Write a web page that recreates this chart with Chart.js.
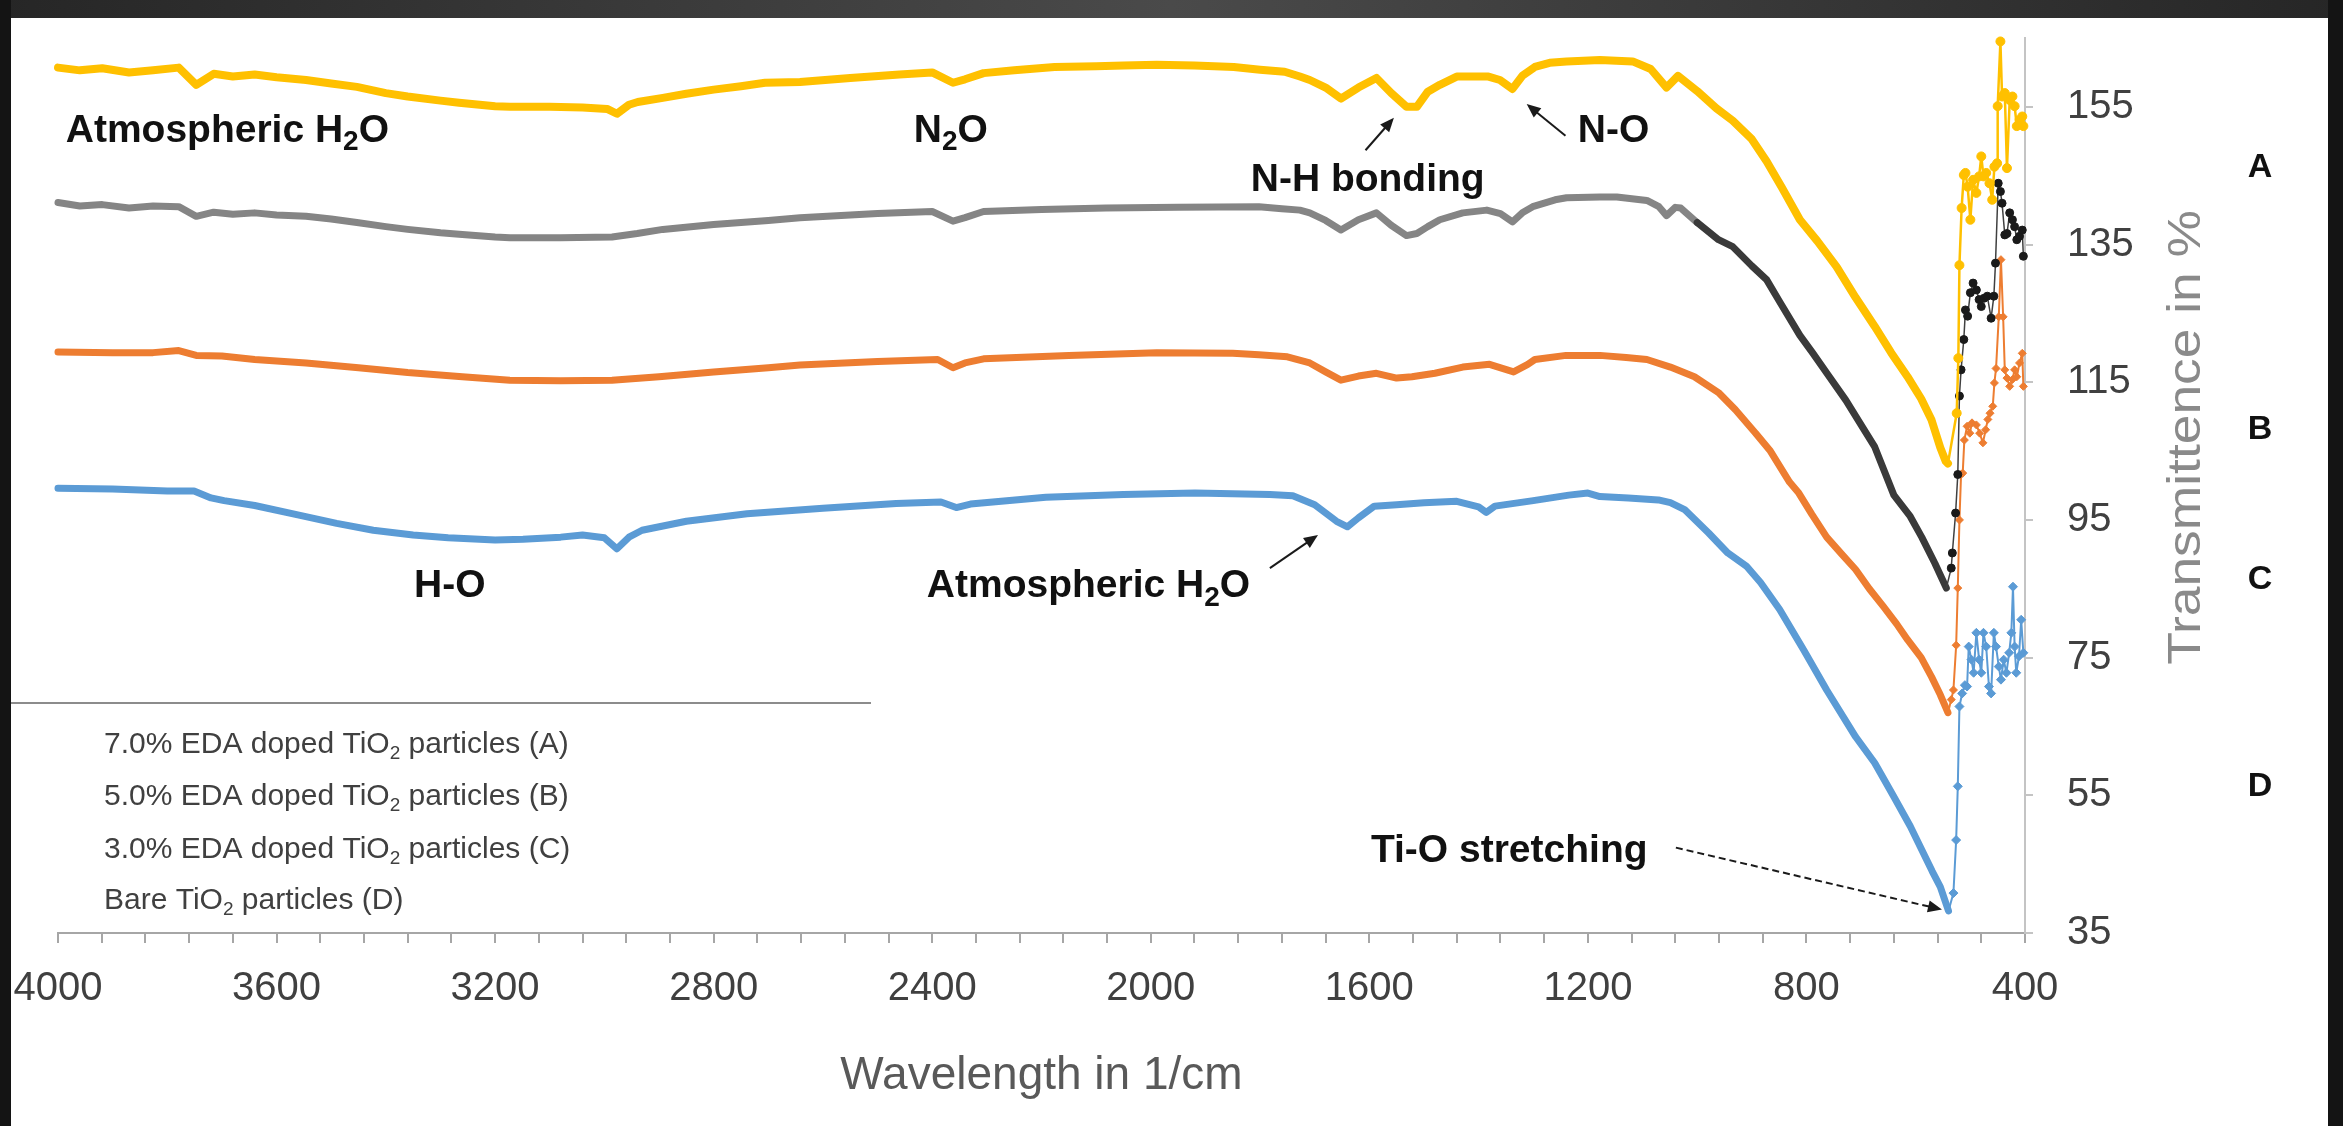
<!DOCTYPE html>
<html>
<head>
<meta charset="utf-8">
<title>FTIR spectra of EDA doped TiO2</title>
<script src="https://cdn.jsdelivr.net/npm/chart.js@4.4.0/dist/chart.umd.min.js"></script>
<style>
  html, body { margin: 0; padding: 0; background: #fff; }
  #wrap { position: relative; width: 2343px; height: 1126px; }
</style>
</head>
<body>
<div id="wrap"><canvas id="ftir" width="2343" height="1126"></canvas></div>
<script>
const FONT = "'Liberation Sans', Arial, Helvetica, sans-serif";

/* ---- values (wavenumber in 1/cm, transmittance in %) ---- */
// A: 7.0% EDA
const wnA = [4000,3960,3919,3870,3826,3779,3747,3715,3680,3640,3600,3546,3500,3453,3400,3360,3300,3266,3200,3173,
  3100,3040,2995,2977,2955,2939,2893,2850,2800,2750,2706,2642,2550,2460,2400,2362,2340,2306,2250,2176,
  2100,2050,1989,1920,1848,1800,1755,1727,1709,1680,1652,1620,1587,1560,1532,1513,1493,1471,1440,1411,
  1382,1361,1338,1320,1297,1270,1239,1178,1118,1085,1056,1035,1000,965,935,900,873,845,812,780,
  745,710,675,645,615,590,571,555,545,541,
  525,522,520,516,512,509,505,500,495,489,484,480,476,471,465,460,456,451,450,445,
  442,437,433,428,423,419,415,410,405,403];
const tA = [160.7,160.3,160.6,160.0,160.3,160.7,158.2,159.8,159.4,159.7,159.3,158.9,158.4,157.9,157.0,156.5,155.9,155.6,155.1,155.0,
  155.0,154.9,154.7,154.0,155.3,155.7,156.3,156.9,157.5,158.0,158.5,158.6,159.2,159.7,160.0,158.5,159.0,159.9,160.3,160.8,
  160.9,161.0,161.1,161.0,160.8,160.4,160.1,159.4,158.9,157.8,156.2,157.8,159.2,157.0,155.0,155.0,157.2,158.2,159.4,159.4,
  159.4,158.9,157.6,159.5,160.8,161.4,161.6,161.8,161.6,160.5,157.8,159.5,157.3,154.8,153.0,150.3,147.1,143.3,138.6,135.5,
  131.8,127.3,123.1,119.3,115.8,112.6,109.5,105.5,103.5,103.2,
  110.5,118.5,132.0,140.3,145.1,145.4,143.4,138.6,144.4,142.5,144.9,147.8,144.9,145.4,143.9,141.5,146.3,146.8,155.1,164.5,
  156.5,157.0,146.1,156.0,156.5,155.1,152.2,153.1,153.6,152.2];

// B: 5.0% EDA
const wnB = [4000,3960,3919,3870,3826,3779,3747,3715,3680,3640,3600,3546,3500,3453,3400,3360,3300,3266,3200,3173,
  3080,2986,2940,2893,2800,2700,2642,2500,2400,2362,2340,2306,2200,2082,1950,1802,1760,1727,1709,1680,
  1652,1620,1587,1560,1532,1513,1493,1471,1429,1385,1360,1338,1320,1301,1260,1239,1178,1147,1092,1070,
  1056,1040,1030,1000,961,935,900,873,849,812,789,760,728,700,675,640,610,589,565,544,
  535,533,527,523,520,517,512,509,505,500,495,489,484,480,475,469,462,457,454,449,
  445,442,437,433,428,423,419,415,410,405,403];
const tB = [141.1,140.6,140.8,140.3,140.6,140.5,139.1,139.7,139.4,139.6,139.3,139.1,138.7,138.2,137.6,137.2,136.7,136.5,136.1,136.0,
  136.0,136.1,136.6,137.2,137.9,138.5,138.9,139.5,139.8,138.4,138.9,139.8,140.1,140.3,140.4,140.5,140.2,140.0,139.6,138.5,
  137.1,138.6,139.6,137.8,136.3,136.6,137.6,138.6,139.6,140.0,139.5,138.3,139.6,140.5,141.5,141.8,141.9,141.9,141.4,140.5,
  139.2,140.4,140.3,138.2,135.7,134.7,131.9,129.9,126.7,121.8,119.3,116.0,112.4,108.8,105.6,98.6,95.5,92.5,88.7,85.1,
  88.0,90.2,96.0,101.6,113.0,116.8,121.2,125.5,124.6,128.0,129.4,128.4,127.0,126.0,127.2,127.5,124.3,127.5,132.3,143.9,
  142.7,141.0,136.4,136.6,139.6,138.6,137.6,135.7,136.2,137.1,133.3];

// C: 3.0% EDA
const wnC = [4000,3900,3826,3779,3747,3700,3640,3546,3450,3360,3260,3173,3080,2986,2900,2800,2700,2642,2500,2390,
  2362,2340,2306,2150,1989,1850,1802,1750,1709,1680,1652,1620,1587,1550,1522,1480,1429,1380,1336,1310,
  1297,1240,1178,1130,1092,1049,1005,961,930,893,866,831,814,790,763,735,710,685,659,635,
  615,590,571,555,541,
  535,531,526,523,520,517,514,511,506,501,497,489,483,477,472,468,464,459,456,453,
  448,444,440,437,433,428,423,419,415,410,405,403];
const tC = [119.4,119.3,119.3,119.6,118.9,118.8,118.3,117.8,117.1,116.4,115.8,115.3,115.2,115.3,115.8,116.5,117.1,117.5,118.0,118.3,
  117.1,117.8,118.4,118.9,119.3,119.2,119.0,118.7,117.8,116.5,115.3,115.9,116.3,115.6,115.8,116.3,117.2,117.6,116.5,117.6,
  118.3,118.9,118.9,118.6,118.3,117.2,115.8,113.5,111.0,107.6,105.0,100.5,98.9,95.8,92.5,90.0,87.8,85.0,82.4,79.9,
  77.6,75.0,72.2,69.6,67.0,
  68.9,70.3,76.8,85.1,95.0,101.6,101.8,106.6,108.6,107.6,109.1,108.8,107.6,106.2,108.1,109.6,110.5,111.5,114.9,117.0,
  124.5,132.8,124.5,116.8,115.6,114.4,115.4,116.8,115.8,117.8,119.2,114.4];

// D: bare TiO2
const wnD = [4000,3900,3800,3751,3720,3696,3640,3559,3490,3423,3350,3286,3200,3149,3080,3040,3000,2977,2955,2931,
  2850,2739,2600,2466,2384,2356,2330,2192,2050,1919,1782,1740,1700,1660,1640,1620,1591,1550,1500,1440,
  1400,1386,1370,1300,1235,1200,1178,1126,1071,1049,1023,979,944,910,884,849,805,763,710,675,
  640,610,589,570,555,540,
  531,526,523,520,515,510,506,503,498,494,489,484,480,476,471,466,462,457,453,448,
  444,439,434,429,425,422,419,416,411,407,403];
const tD = [99.6,99.5,99.2,99.2,98.2,97.8,97.1,95.7,94.5,93.5,92.8,92.4,92.1,92.2,92.5,92.8,92.4,90.8,92.5,93.5,
  94.8,95.9,96.7,97.4,97.6,96.8,97.3,98.3,98.7,98.9,98.7,98.5,97.2,94.8,94.0,95.3,97.0,97.2,97.5,97.7,
  96.9,96.1,97.0,97.8,98.6,98.9,98.4,98.2,97.9,97.5,96.5,93.1,90.2,88.3,85.9,82.0,76.1,70.3,63.5,59.7,
  54.8,50.5,47.1,44.0,41.7,38.2,
  40.8,48.5,56.3,67.9,69.8,71.0,70.8,76.6,74.7,72.8,78.6,74.7,72.8,78.6,76.6,70.8,69.8,78.6,76.6,73.7,
  71.8,74.7,72.8,75.7,78.6,85.3,76.6,72.8,75.2,80.5,75.7];

const seriesNames = [
  '7.0% EDA doped TiO2 particles (A)',
  '5.0% EDA doped TiO2 particles (B)',
  '3.0% EDA doped TiO2 particles (C)',
  'Bare TiO2 particles (D)'
];
const xLabelTicks = [4000, 3600, 3200, 2800, 2400, 2000, 1600, 1200, 800, 400];
const xMinorStep = 80;
const yTicks = [35, 55, 75, 95, 115, 135, 155];

/* ---- annotation texts (position in wavenumber / % ) ---- */
const notes = [
  { parts: [['Atmospheric H'], ['2', 1], ['O']], x: 3690, y: 151.5 },
  { parts: [['N'], ['2', 1], ['O']], x: 2366, y: 151.5 },
  { parts: [['N-H bonding']], x: 1603, y: 144.3 },
  { parts: [['N-O']], x: 1153, y: 151.5 },
  { parts: [['H-O']], x: 3283, y: 85.3 },
  { parts: [['Atmospheric H'], ['2', 1], ['O']], x: 2114, y: 85.3 },
  { parts: [['Ti-O stretching']], x: 1344, y: 46.9 }
];
const arrows = [
  { from: [1607, 148.7], to: [1555, 153.4] },
  { from: [1241, 150.8], to: [1312, 155.4] },
  { from: [1782, 88.0], to: [1694, 92.8] },
  { from: [1039, 47.4], to: [552, 38.4], dashed: true }
];
const sideLetters = [['A', 146.1], ['B', 108.1], ['C', 86.3], ['D', 56.2]];

function spectrum(idx, wn, t, color, lineThick, tailColor, tailWidth, markColor, markStyle, markR, denseColor) {
  if (wn.length !== t.length) console.error('length mismatch', seriesNames[idx]);
  const tailFrom = wn[t.indexOf(Math.min(...t))];
  return {
    label: seriesNames[idx],
    data: wn.map((x, i) => ({ x, y: t[i] })),
    borderColor: color,
    backgroundColor: markColor,
    borderJoinStyle: 'round',
    borderCapStyle: 'round',
    tension: 0,
    clip: 12,
    segment: {
      borderWidth: c => c.p0.parsed.x > tailFrom ? lineThick : tailWidth,
      borderColor: c => c.p0.parsed.x > tailFrom ? (denseColor ? denseColor(c.p0.parsed.x) : color) : tailColor
    },
    pointStyle: markStyle,
    pointRadius: c => (c.raw && c.raw.x < tailFrom) ? markR : 0,
    pointBackgroundColor: markColor,
    pointBorderColor: markColor,
    pointBorderWidth: 1
  };
}

function richText(ctx, parts, x, y, size, weight, color, align, subScale) {
  const fMain = `${weight} ${size}px ${FONT}`;
  const fSub = `${weight} ${Math.round(size * (subScale || 0.62))}px ${FONT}`;
  let total = 0;
  parts.forEach(p => { ctx.font = p[1] ? fSub : fMain; total += ctx.measureText(p[0]).width; });
  let cx = align === 'center' ? x - total / 2 : (align === 'right' ? x - total : x);
  ctx.fillStyle = color;
  ctx.textAlign = 'left';
  ctx.textBaseline = 'middle';
  parts.forEach(p => {
    ctx.font = p[1] ? fSub : fMain;
    ctx.fillText(p[0], cx, p[1] ? y + size * 0.3 : y);
    cx += ctx.measureText(p[0]).width;
  });
}

function drawArrow(ctx, x1, y1, x2, y2, dashed) {
  const ang = Math.atan2(y2 - y1, x2 - x1);
  const L = 14, W = 6;
  ctx.save();
  ctx.strokeStyle = '#1a1a1a';
  ctx.fillStyle = '#1a1a1a';
  ctx.lineWidth = 2;
  if (dashed) ctx.setLineDash([7, 4]);
  ctx.beginPath();
  ctx.moveTo(x1, y1);
  ctx.lineTo(x2 - Math.cos(ang) * L * 0.8, y2 - Math.sin(ang) * L * 0.8);
  ctx.stroke();
  ctx.setLineDash([]);
  ctx.beginPath();
  ctx.moveTo(x2, y2);
  ctx.lineTo(x2 - L * Math.cos(ang) + W * Math.sin(ang), y2 - L * Math.sin(ang) - W * Math.cos(ang));
  ctx.lineTo(x2 - L * Math.cos(ang) - W * Math.sin(ang), y2 - L * Math.sin(ang) + W * Math.cos(ang));
  ctx.closePath();
  ctx.fill();
  ctx.restore();
}

/* legend box, labels, arrows, y title */
const decorations = {
  id: 'decorations',
  afterDatasetsDraw(chart) {
    const { ctx, chartArea, scales: { x, y } } = chart;
    ctx.save();

    // legend box (text only, as in the figure)
    ctx.fillStyle = '#ffffff';
    ctx.fillRect(11, 704, 822, 222);
    ctx.strokeStyle = '#8c8c8c';
    ctx.lineWidth = 2;
    ctx.beginPath();
    ctx.moveTo(11, 703);
    ctx.lineTo(871, 703);
    ctx.stroke();
    const rows = [745, 797, 850, 901];
    seriesNames.forEach((name, i) => {
      const k = name.indexOf('TiO2');
      const parts = [[name.slice(0, k) + 'TiO'], ['2', 1], [name.slice(k + 4)]];
      richText(ctx, parts, 104, rows[i], 30, 'normal', '#404040', 'left');
    });

    // annotations
    notes.forEach(n => {
      richText(ctx, n.parts, x.getPixelForValue(n.x), y.getPixelForValue(n.y), 39, 'bold', '#111111', 'center', 0.72);
    });
    arrows.forEach(a => {
      drawArrow(ctx, x.getPixelForValue(a.from[0]), y.getPixelForValue(a.from[1]),
        x.getPixelForValue(a.to[0]), y.getPixelForValue(a.to[1]), a.dashed);
    });

    // A-D labels right of the axis
    sideLetters.forEach(([s, v]) => {
      richText(ctx, [[s]], chartArea.right + 235, y.getPixelForValue(v), 34, 'bold', '#111111', 'center');
    });

    // y axis title, reading bottom to top (stretched along its length as in the figure)
    ctx.translate(chartArea.right + 162, y.getPixelForValue(107));
    ctx.rotate(-Math.PI / 2);
    ctx.scale(1.16, 1);
    ctx.font = `normal 46px ${FONT}`;
    ctx.fillStyle = '#8a8a8a';
    ctx.textAlign = 'center';
    ctx.textBaseline = 'middle';
    ctx.fillText('Transmittence in %', 0, 0);
    ctx.restore();
  },
  afterDraw(chart) {
    // dark slide frame around the figure
    const { ctx, width, height } = chart;
    ctx.save();
    const g = ctx.createLinearGradient(0, 0, width, 0);
    g.addColorStop(0, '#262626');
    g.addColorStop(0.5, '#4a4a4a');
    g.addColorStop(1, '#262626');
    ctx.fillStyle = g;
    ctx.fillRect(0, 0, width, 18);
    ctx.fillStyle = '#141414';
    ctx.fillRect(0, 0, 11, height);
    ctx.fillRect(width - 15, 0, 15, height);
    ctx.restore();
  }
};

const xTickValues = [];
for (let v = 4000; v >= 400; v -= xMinorStep) xTickValues.push(v);

new Chart(document.getElementById('ftir'), {
  type: 'line',
  data: {
    datasets: [
      spectrum(0, wnA, tA, '#FFC000', 8, '#FFC000', 2.5, '#FFC000', 'circle', 4.5),
      spectrum(1, wnB, tB, '#7f7f7f', 7, '#404040', 1.5, '#1a1a1a', 'circle', 4,
        w => w > 1000 ? '#858585' : '#3a3a3a'),
      spectrum(2, wnC, tC, '#ED7D31', 7, '#ED7D31', 2, '#ED7D31', 'rectRot', 4),
      spectrum(3, wnD, tD, '#5B9BD5', 7, '#5B9BD5', 2, '#5B9BD5', 'rectRot', 4.5)
    ]
  },
  options: {
    responsive: false,
    animation: false,
    devicePixelRatio: 1,
    layout: { autoPadding: false, padding: { left: 58, top: 38, right: 0, bottom: 0 } },
    plugins: {
      legend: { display: false },
      tooltip: { enabled: false }
    },
    scales: {
      x: {
        type: 'linear',
        reverse: true,
        min: 400,
        max: 4000,
        afterBuildTicks: s => { s.ticks = xTickValues.map(v => ({ value: v })); },
        afterFit: s => { s.height = 193; s.paddingLeft = 0; s.paddingRight = 0; },
        ticks: {
          autoSkip: false,
          maxRotation: 0,
          padding: 22,
          color: '#404040',
          font: { family: FONT, size: 40 },
          callback: v => xLabelTicks.includes(v) ? String(v) : ''
        },
        grid: { drawOnChartArea: false, drawTicks: true, tickLength: 10, color: '#a6a6a6', lineWidth: 2 },
        border: { display: true, color: '#a6a6a6', width: 2 },
        title: {
          display: true,
          text: 'Wavelength in 1/cm',
          color: '#595959',
          font: { family: FONT, size: 46 },
          padding: { top: 0, bottom: 22 }
        }
      },
      y: {
        position: 'right',
        min: 35,
        max: 165,
        afterBuildTicks: s => { s.ticks = yTicks.map(v => ({ value: v })); },
        afterFit: s => { s.width = 318; s.paddingTop = 0; s.paddingBottom = 0; },
        ticks: { padding: 34, color: '#404040', font: { family: FONT, size: 40 } },
        grid: { drawOnChartArea: false, drawTicks: true, tickLength: 8, color: '#c4c4c4', lineWidth: 2 },
        border: { display: true, color: '#c4c4c4', width: 2 }
      }
    }
  },
  plugins: [decorations]
});
</script>
</body>
</html>
